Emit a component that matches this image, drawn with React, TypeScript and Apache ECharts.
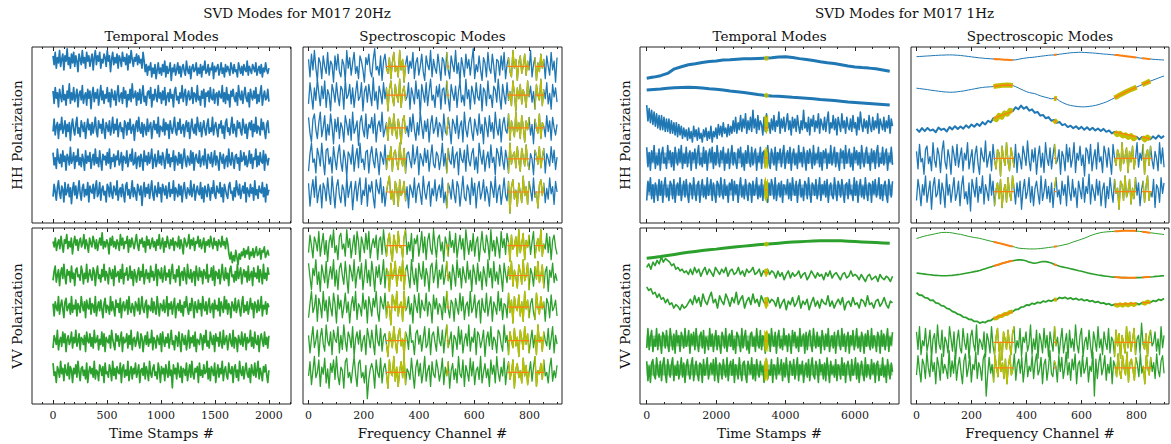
import React, { useEffect, useRef } from "react";
import * as echarts from "echarts";

const BLUE = "#1f77b4";
const GREEN = "#2ca02c";
const YELLOW = "#bfbf00";
const ORANGE = "#ff7f0e";
const INK = "#222222";
const FONT = "DejaVu Serif";

// ---- tick labels ----
const TICKS_T20 = [0, 500, 1000, 1500, 2000];
const TICKS_T1 = [0, 2000, 4000, 6000];
const TICKS_F = [0, 200, 400, 600, 800];

// ---- sample ranges / steps ----
const SPAN_T20 = 2000;      // time stamps covered by the 20 Hz modes
const SPAN_T1 = 7080;       // time stamps covered by the 1 Hz modes
const SPAN_F = 900;         // frequency channels
const STEP_T1 = 60;
const STEP_T1_SMOOTH = 200;
const STEP_F = 10;
const STEP_MASK_T1 = 10;

// ---- masked (flagged) regions ----
const MASK_F = [[280, 355], [500, 510], [720, 800], [820, 855]];
const MASK_T1 = [[3400, 3490]];

// ---- mode offsets ----
const OFF_A_HH = [89, 72, 54, 36, 18];
const OFF_A_VV = [88.3, 73.3, 55, 35.8, 18.2];
const OFF_B_HH = [89, 72.7, 54, 36.4, 17.6];
const OFF_B_VV = [90, 73, 55, 36, 18];
const OFF_C_HH = [0, 0, 54, 37, 18.75];
const OFF_C_VV = [0, 74.6, 57.5, 35.8, 19.3];
const OFF_D_HH = [0, 0, 0, 36.7, 17.8];
const OFF_D_VV = [0, 0, 0, 35, 20.5];

// ---- 20 Hz temporal modes, HH ----
const A_HH_1 = [6,1,8,-1,5,2,9,0,4,7,-2,6,3,10,1,5,-1,7,2,8,0,6,3,-3,7,4,1,9,2,5,-1,8,3,6,0,4,7,-2,5,9,1,6,3,8,-1,4,2,7,5,0,9,3,6,-3,4,8,1,5,2,7,-1,6,4,0,8,3,5,1,7,-2,6,2,9,4,0,5,3,7,1,6,2,4,-1,8,3,-3,1,-5,0,-2,2,-6,-1,-4,1,-7,-2,2,-4,-1,-5,1,-3,3,-6,0,-4,-2,2,-8,-1,-3,1,-5,-2,2,-4,0,-6,-1,1,-3,-5,3,-2,-4,0,-7,-1,1,-3,-2,2,-5,-1,-4,1,-6,0,-2,3,-4,-3,1,-5,-1,-2,2,-7,0,-3,-1,1,-5,-2,2,-4,-1,-6,1,-3,0,-2,-5,2,-1,-4,1,-3,-2,-6,2,-1,-4,0,-5,1,-2,-3,3,-5,0,-2,-4,1,-1,-3,2,-5,-2,0,-4,1,-6,-1,-3,2,-2,-4,-1];
const A_HH_2 = [3,-4,5,-1,2,-6,4,0,-3,6,-2,1,-5,3,-1,7,-4,2,-2,5,-3,0,4,-6,1,3,-2,6,-4,0,2,-5,4,-1,3,-7,1,5,-3,2,-1,4,-5,0,6,-2,3,-4,1,-1,5,-3,2,-6,4,0,-2,3,-5,1,6,-3,0,2,-4,5,-1,3,-6,1,-2,4,-3,7,-1,0,3,-5,2,-2,4,-4,1,6,-3,0,-5,2,3,-1,5,-6,1,-2,4,0,-3,6,-1,2,-4,3,-2,5,-5,0,2,-3,4,-1,1,-6,3,5,-2,0,-4,2,-1,6,-3,1,4,-5,0,3,-2,-1,5,-4,2,1,-3,6,-2,0,-5,3,-1,4,-6,2,0,3,-3,5,-1,-2,4,-4,1,2,-5,3,0,-1,6,-3,2,-4,5,-2,1,-6,3,0,4,-1,-3,2,-5,6,0,-2,3,-4,1,5,-1,-3,2,-6,4,0,-2,3,-1,5,-4,1,-3,2,6,-5,0,3,-2,-1,4,-3];
const A_HH_3 = [-2,5,-4,1,3,-6,2,-1,6,-3,0,4,-5,2,-2,3,-7,1,5,-1,-4,2,6,-3,0,-5,4,1,-2,3,-6,0,5,-1,2,-4,3,-3,1,6,-2,-5,4,0,2,-3,5,-1,-6,3,1,-2,4,-4,0,6,-3,2,-1,5,-5,1,3,-2,0,-6,4,2,-4,3,-1,5,-3,0,2,-7,1,4,-2,6,-1,-3,3,-5,2,0,-4,5,-2,1,3,-6,0,4,-1,2,-3,6,-5,1,0,-2,5,-4,3,-1,2,-6,4,0,-3,1,6,-2,-4,3,-1,5,-3,0,2,-5,1,4,-2,3,-6,0,5,-1,-3,2,-4,6,1,-2,3,-5,0,4,-1,-4,2,5,-3,0,-2,6,-4,1,3,-1,-5,2,0,4,-3,1,-6,3,5,-2,0,-4,1,6,-3,2,-1,-5,4,0,3,-2,-4,5,1,-3,2,-6,0,3,-1,4,-5,2,-2,6,-3,1,0,-4,5,-1,3,-2,-6,2,4,-3];
const A_HH_4 = [4,-3,1,-5,6,0,-2,3,-4,5,-1,2,-6,3,1,-3,7,-2,0,4,-5,2,-1,6,-3,1,-4,3,0,-6,5,-2,2,-1,4,-5,0,3,-3,6,-2,1,-4,5,-1,-6,3,0,2,-3,4,-2,6,-5,1,-1,3,-4,2,0,5,-3,-1,4,-6,2,1,-2,5,-4,0,3,-1,6,-3,-2,4,-5,1,2,-4,3,0,-6,5,-1,2,-3,4,-2,1,6,-5,0,3,-4,-1,5,-2,2,-3,4,1,-5,0,6,-2,3,-4,1,-1,5,-6,2,0,-3,4,-2,3,-5,1,6,-1,-4,2,0,-3,5,-2,4,-6,1,3,-1,-2,5,-4,0,2,-3,6,-1,-5,3,1,-2,4,-4,0,5,-3,2,-1,-6,4,1,-2,3,-5,0,2,-4,6,-1,-3,4,0,-5,2,3,-2,1,-6,5,-1,0,4,-3,2,-4,-1,5,-2,3,-5,1,0,6,-4,2,-3,4,-1,-2,5,-6,3,0,-3,1];
const A_HH_5 = [-3,4,0,-5,2,6,-1,-4,3,1,-6,5,-2,0,4,-3,2,-7,1,5,-2,3,-4,0,6,-1,-5,2,4,-3,1,-2,5,-6,3,0,-1,4,-4,2,6,-3,-1,5,-5,1,3,-2,0,-6,4,2,-3,5,-1,-4,3,1,-2,6,-5,0,2,-3,4,-1,-6,3,5,-2,1,-4,0,6,-3,2,-1,-5,4,1,-2,3,-8,0,5,-3,2,-1,4,-4,1,6,-2,-5,3,0,-3,5,-1,2,-6,4,1,-2,3,-4,0,5,-3,1,-1,6,-5,2,0,-3,4,-2,3,-6,1,5,-1,-4,2,0,-2,6,-3,1,4,-5,0,3,-1,-2,5,-4,2,-6,3,0,-3,4,1,-5,2,-1,6,-2,-4,3,0,-1,5,-3,2,-6,4,1,-2,-4,3,5,-1,0,-5,2,-3,6,1,-2,4,-4,0,3,-1,5,-6,2,0,-3,4,-1,2,-5,6,-2,1,-4,3,0,-1,5,-3,2,-6,4,-2,1];

// ---- 20 Hz temporal modes, VV ----
const A_VV_1 = [4,1,6,-1,3,5,0,7,2,-2,5,3,8,0,4,1,6,-3,3,7,2,5,-1,4,6,1,3,8,0,5,2,-2,6,3,1,7,4,0,5,-1,3,6,2,9,0,4,1,5,3,-3,6,2,7,1,4,0,5,3,-1,8,2,6,0,4,3,7,-2,5,1,6,3,0,4,8,2,-1,5,3,6,1,4,-2,7,2,5,0,3,6,1,4,-1,5,2,8,0,3,6,-2,4,1,7,3,0,5,2,6,-1,4,3,1,7,0,5,2,-3,6,4,1,3,8,0,5,2,6,-1,4,3,7,1,5,0,3,6,-2,4,2,5,1,7,3,0,6,2,4,-1,5,3,1,7,2,4,0,6,3,-3,-6,-2,-8,-4,-7,-1,-5,-9,-3,-6,-2,-4,0,-5,-1,-3,1,-6,-2,-4,0,-5,-2,1,-4,-3,0,-6,-1,-2,1,-5,-3,-1,-4];
const A_VV_2 = [-3,2,5,-4,0,3,-6,1,4,-2,6,-1,-5,3,0,2,-4,5,-2,1,-6,3,4,-1,0,-3,5,2,-5,1,-2,6,-4,0,3,-1,-3,4,2,-6,1,5,-2,0,-4,3,-1,6,-3,2,0,-5,4,1,-2,3,-6,5,-1,0,2,-4,3,-2,6,-5,1,0,4,-3,-1,5,-2,2,-6,3,0,-4,1,4,-3,2,-1,6,-5,0,3,-2,1,-4,5,-1,2,-3,0,6,-6,3,1,-2,4,-4,0,5,-3,1,-1,3,-5,2,6,-2,0,-4,3,-1,5,-6,1,2,-3,4,0,-5,6,-1,-2,3,-4,1,2,-6,5,0,-3,4,-1,2,-5,3,1,-2,6,-4,0,-1,4,-3,5,-6,2,1,-2,3,-5,0,6,-1,-3,4,-2,1,-6,3,5,-1,0,-4,2,-3,6,-2,1,4,-5,0,3,-1,2,-4,5,-3,0,2,-6,4,-1,1,-2,5,-4,3,0,-5,6,-2,1,-3,4,0];
const A_VV_3 = [2,-5,3,0,-2,6,-4,1,4,-1,-6,3,5,-2,0,2,-4,6,-3,1,-1,4,-5,2,0,-3,6,1,-2,3,-6,4,0,-1,5,-4,2,1,-3,6,-5,0,3,-2,4,-1,-6,2,5,-3,1,0,-4,6,-2,3,-1,-5,4,0,2,-3,5,-6,1,3,-2,0,4,-4,6,-1,-3,2,0,-5,3,1,-2,5,-4,0,6,-1,-3,2,4,-6,1,0,-2,5,-3,3,-1,-4,6,0,-5,2,1,-2,4,-3,0,6,-5,2,-1,3,-4,1,5,-6,0,2,-2,4,-3,1,-5,3,0,6,-1,-4,2,-2,5,1,-6,3,0,-3,4,-1,2,-5,6,0,-2,3,-4,1,5,-3,0,2,-6,4,-1,1,-2,5,-5,3,0,-3,6,-1,4,-4,2,0,-6,3,1,-2,5,-3,0,4,-1,-5,2,6,-3,1,-2,3,-4,0,5,-1,2,-6,3,1,-3,4,-2,0,6,-5,1,-1,3,-4,2,0];
const A_VV_4 = [-4,3,1,-2,6,-5,0,2,-3,5,-1,4,-6,1,3,-2,0,5,-4,2,-1,6,-3,0,4,-5,2,1,-2,3,-6,5,0,-1,4,-3,2,-4,6,-1,0,3,-5,1,-2,5,-3,4,-6,2,0,-1,3,-4,6,1,-2,-5,4,0,3,-3,1,5,-6,2,-1,0,4,-4,3,-2,6,-5,1,2,-3,0,5,-1,-4,4,2,-6,0,3,-2,5,-3,1,-1,6,-5,2,0,-4,3,1,-2,4,-6,5,0,-3,2,-1,4,-4,1,6,-2,0,-5,3,2,-3,5,-1,-6,4,1,-2,3,-5,0,6,-4,2,-1,3,-3,5,-6,1,0,-2,4,2,-5,3,-1,6,-3,0,-4,5,1,-2,3,-6,4,0,2,-3,5,-1,-4,6,-2,1,3,-5,0,4,-1,-3,6,-4,2,1,-6,3,0,-2,5,-3,1,4,-5,2,-1,0,6,-3,2,-4,5,-1,-2,3,-6,1,4,0,-3,5,-2,2,-4,3];
const A_VV_5 = [5,-2,0,-6,3,1,-3,6,-1,2,-5,4,0,-2,5,-4,3,1,-6,2,-1,4,-3,6,0,-5,2,3,-2,1,-4,5,-6,0,3,-1,2,-3,6,-4,1,0,-5,4,2,-2,3,-6,5,-1,0,-3,4,1,-5,6,-2,2,-4,3,0,-1,5,-6,2,4,-3,1,-2,6,-5,0,3,-4,2,-1,5,-3,0,4,-6,1,2,-2,5,-4,3,0,-5,6,-1,-3,2,4,-2,0,-4,5,1,-6,3,-1,2,-5,4,0,-3,6,-2,1,-9,4,-1,2,-4,5,0,-3,3,-6,2,1,-2,5,-5,0,4,-3,6,-1,-4,2,0,3,-6,5,-2,1,-3,4,-1,0,6,-4,2,-5,3,1,-2,5,-6,0,4,-3,2,-1,6,-5,1,3,-2,-4,5,0,-1,3,-6,2,4,-3,1,-5,6,0,-2,3,-4,1,5,-1,-3,2,-6,4,0,-2,5,-3,1,6,-4,2,-1,-5,3,0,4,-2,-6,1];

// ---- 20 Hz spectroscopic modes, HH ----
const B_HH_1 = [4,-6,7,-2,9,-1,-8,5,2,-7,6,0,-4,8,-5,3,1,-9,6,-2,7,-3,-6,4,1,-8,9,-1,5,-5,2,8,-4,0,-7,6,3,-2,-9,5,1,7,-3,-6,4,10,-2,0,-5,6,-8,3,7,-1,-4,5,-7,2,8,-3,0,-6,9,-2,4,-9,1,6,-4,3,-1,8,-7,2,5,-5,0,7,-3,-8,6,1,-2,9,-6,4,-1,-4,7,0,-8,5,3,-5,8,-2,-7,6,1,-3,9,-4,2,-9,5,0,-6,7,-1,4,-5,3,10,-7,1,-3,6,-2,-8,5,2,-6,8,-1,-4,7,0,-9,4,3,-5,6,-2,8,-7,1,5,-3,-6,9,-1,4,-8,2,6,-4,0,7,-5,3,-2,9,-6,1,5,-8,2,-3,7,-1,4,-7,6,0,-5,8,-2,3,-9,5];
const B_HH_2 = [-5,7,0,-8,4,-3,9,1,-6,5,-2,8,-7,3,0,-9,6,2,-4,7,-1,-6,5,3,-8,9,-2,0,6,-5,4,-7,1,8,-3,-1,7,-9,2,5,-4,6,0,-6,10,-3,2,-8,5,1,-5,7,-2,4,-9,3,8,-1,-6,6,0,-4,9,-7,2,5,-3,-1,7,-8,4,0,-5,8,-2,3,-11,6,1,-4,7,-6,2,9,-3,0,-7,5,-1,6,-8,3,4,-5,8,-2,-9,6,1,-3,5,-7,2,8,-4,0,-6,9,-2,3,-8,5,1,-5,7,-1,-3,6,-9,4,2,-6,8,-2,0,-7,5,3,-4,9,-1,-8,6,0,-5,7,-3,2,-6,8,1,-9,4,-2,6,-5,3,0,-7,8,-1,5,-4,2,-8,6,0,-3,9,-6,3,-2,7,-5,1,-8,6,-1,4,-4];
const B_HH_3 = [6,-3,-8,5,8,-1,-6,3,9,-5,0,7,-7,2,-4,8,1,-9,5,-2,6,-6,3,0,-8,7,2,-4,5,-7,9,-3,0,4,-10,3,7,-1,-5,8,-6,2,0,6,-3,8,-8,1,4,-2,9,-5,-1,3,-7,6,2,-4,8,-1,-6,5,0,-9,4,7,-3,1,-5,6,-2,8,-1,-7,3,-4,9,1,-6,4,-2,5,-8,2,7,-3,0,6,-5,3,1,-7,8,-2,-4,6,0,-9,5,2,-3,7,-6,1,4,-8,9,-1,-5,3,6,-2,-7,5,0,-4,8,-3,2,-9,6,1,-5,7,-2,3,-6,9,0,-4,5,-8,2,6,-1,-3,8,-7,4,0,-5,9,-2,3,-6,7,1,-8,4,-1,6,-4,2,-9,5,0,-3,8,-6,3,1,-5,7,-2,4,-7,6,0,-4,2];
const B_HH_4 = [-7,3,9,-2,0,-8,6,2,-4,9,-1,-9,5,6,-3,1,-8,7,0,-6,3,8,-2,-7,5,0,-10,4,2,-3,8,-7,1,6,-5,9,-2,0,-6,4,5,-8,2,7,-1,-5,6,0,-9,4,1,-3,8,-6,2,-1,7,-7,3,5,-2,-6,9,0,-4,6,-8,3,4,-1,-5,8,-3,1,7,-9,3,0,-4,6,-2,5,-7,1,8,-3,-5,4,2,-6,0,9,-4,3,-8,6,-1,-3,7,-5,2,4,-9,6,0,-2,5,-7,8,-1,-4,3,6,-6,1,-8,9,2,-3,5,-7,0,4,-5,8,-2,1,-9,6,3,-4,7,-1,-6,5,0,-8,9,-3,2,4,-5,7,-1,-7,6,1,-4,8,-2,-6,3,0,-9,5,2,-3,7,-5,1,6,-8,3,0,-4,7,-2,5,-6,1];
const B_HH_5 = [5,-8,1,7,-3,9,-6,0,4,-9,5,2,-5,8,-1,-7,9,0,-9,3,7,-2,-6,4,1,-8,9,-3,2,6,-10,0,6,-5,3,8,-7,1,-2,8,-8,4,0,6,-3,-9,7,2,-1,8,-6,3,-8,0,5,9,-4,1,-7,6,2,-8,7,-2,0,6,-5,3,-9,4,1,-3,8,-6,2,5,-1,-7,9,0,-4,3,6,-8,2,-2,7,-5,1,4,-3,8,-6,0,-9,5,2,-4,7,-1,-6,6,3,-8,0,9,-3,-5,4,1,-7,8,-2,5,-9,2,6,-4,0,7,-5,3,-1,-8,6,2,-3,9,-6,1,4,-7,0,8,-2,-5,6,-12,3,7,-4,1,-8,5,0,-6,9,-2,3,-7,6,1,-5,8,-3,0,-9,4,7,-2,5,-6,2,-4,8,-1,3,-7,6,0];

// ---- 20 Hz spectroscopic modes, VV ----
const B_VV_1 = [-4,6,0,-7,5,2,-3,8,-6,1,7,-5,3,-9,2,6,-1,9,-4,0,-8,5,7,-2,1,-6,9,-1,4,-7,0,6,-5,8,2,-9,5,1,-4,7,-2,8,-7,0,4,-1,6,-8,3,5,-5,9,0,-6,3,7,-3,-9,6,1,-4,8,-1,0,-7,5,9,-5,2,-3,7,-9,4,1,6,-6,0,8,-4,5,-8,3,7,-2,-5,9,0,-7,4,6,-3,2,-9,5,1,-6,8,-1,3,-4,7,-7,0,6,-2,4,-8,9,1,-5,3,-3,7,-6,2,5,-9,0,8,-2,-4,6,1,-8,9,-3,3,-6,5,0,-7,8,-1,4,-5,7,2,-9,6,-2,0,5,-6,9,-4,1,7,-8,3,-1,6,-5,2,8,-7,0,4,-3,9,-6,1,-2,7,-4,5,-8,3,6,-1,-5];
const B_VV_2 = [7,-1,-8,4,0,9,-5,2,-9,6,1,-4,8,-7,0,5,-2,9,-6,3,-8,4,7,0,-5,8,-1,-10,6,2,-3,9,-7,1,5,-2,7,-8,0,9,-4,3,-6,8,1,-9,5,-1,6,-5,0,9,-7,4,2,-9,7,-2,1,8,-6,0,5,-3,9,-8,3,6,-1,-7,9,0,-5,4,-9,7,1,-2,8,-6,4,0,-9,5,7,-4,1,9,-7,3,-2,6,-5,0,8,-3,2,-8,6,1,-6,9,-1,4,-7,5,0,-4,8,-2,3,-9,6,1,-5,7,-3,2,-8,5,0,-6,9,-1,4,-7,8,-3,2,-5,6,0,-9,7,1,-4,5,-2,8,-6,3,-1,-7,6,2,-5,9,-3,0,7,-8,4,1,-6,5,-2,8,-4,0,6,-7,2,5,-9,3,-1,7,-4,1,-3];
const B_VV_3 = [-6,2,9,-3,0,7,-8,5,1,-6,9,-2,4,-8,6,0,-5,8,2,-9,7,-1,4,-6,0,8,-3,3,-9,1,6,-2,9,-7,2,0,-5,8,-1,4,-9,6,1,-5,5,0,9,-3,-8,6,2,-1,8,-6,3,0,-10,7,4,-2,9,-5,1,3,-8,9,-2,0,6,-4,2,-9,7,1,-3,8,-6,4,0,-2,8,-5,3,1,-9,7,-1,5,-4,2,0,-7,6,-3,9,-1,-6,4,2,-8,5,0,-4,8,-2,6,-7,1,3,-5,9,-3,0,7,-6,2,4,-9,5,-1,-3,8,-5,1,6,-8,3,0,-4,9,-2,5,-7,2,1,-6,8,-3,4,-9,6,0,-2,7,-5,3,-8,9,-1,4,-6,2,5,-3,-7,8,0,-4,6,-1,3,-8,5,2,-6,7,-2,0,4,-5];
const B_VV_4 = [3,-7,1,8,-4,0,6,-9,2,7,-2,-6,9,0,-3,5,-8,6,1,-1,8,-7,3,-5,9,0,-6,5,2,-4,8,-9,1,5,-2,6,-6,0,3,-8,7,2,-4,6,-1,-8,9,0,-3,7,-6,2,4,-2,-9,5,1,-4,8,0,-7,3,7,-3,1,-9,5,2,-5,9,-1,0,-8,4,6,-2,3,-6,1,8,-4,-2,7,-8,3,5,-1,-6,8,0,-3,6,-7,2,9,-4,0,5,-9,3,1,-5,8,-2,6,-7,0,4,-3,9,-6,2,-1,7,-8,5,3,-4,0,6,-9,1,5,-3,8,-5,2,0,-7,6,4,-2,-6,9,-1,3,-8,5,0,-4,7,-3,2,-9,6,1,-5,8,-2,4,-7,0,6,-4,3,-8,9,-1,2,-6,5,0,-3,7,-5,1,8,-7,3,-2];
const B_VV_5 = [-2,6,-7,1,9,-3,0,7,-8,3,-1,8,-6,2,-9,5,0,7,-4,9,-2,-7,3,1,-9,6,8,-3,0,-6,2,9,-1,-8,5,7,-3,0,-6,4,-15,-4,2,5,1,-9,7,0,-3,8,-6,2,5,-1,-9,7,0,-2,9,-5,3,-8,1,6,-3,9,-7,2,0,-4,8,-1,-9,3,7,-2,5,-6,0,9,-5,1,4,-8,6,-1,-3,7,2,-5,0,8,-7,3,-2,6,-9,1,5,-4,2,-6,9,-1,-3,7,-8,4,0,-5,8,-2,6,-7,1,3,-4,9,-6,0,5,-3,2,-8,7,-1,4,-6,9,0,-5,3,-2,8,-7,1,6,-4,0,7,-9,2,5,-3,1,-6,8,-2,4,-7,0,6,-5,3,9,-8,1,-1,5,-4,7,-2,0,-6,3,8,-5,1,-3,4];

// ---- 1 Hz temporal modes, HH ----
const C_HH_1 = [82.2,82.9,83.7,85.0,87.6,88.8,89.9,90.5,91.2,91.7,92.1,92.6,92.8,93.1,93.3,93.3,93.5,93.6,93.9,94.3,94.4,94.0,93.4,92.9,92.3,91.6,91.0,90.6,89.9,89.2,88.7,88.3,88.0,87.6,86.9,86.2];
const C_HH_2 = [75.6,75.9,76.2,76.6,76.8,77.0,77.1,77.0,76.7,76.3,76.0,75.6,75.0,74.6,74.2,73.6,73.0,72.5,72.2,72.0,71.7,71.4,71.2,70.9,70.6,70.2,69.9,69.6,69.2,68.8,68.5,68.2,67.9,67.6,67.3,67.0];
const C_HH_3 = [13,4,11,3,10,2,9,1,8,0,7,-1,7,-1,6,-2,5,-2,5,-3,4,-3,3,-4,3,-5,2,-4,1,-6,0,-5,-1,-7,0,-6,-2,-8,1,-5,-1,-7,0,-6,-3,-8,-1,-5,0,-7,-2,-6,1,-8,-2,-5,0,-6,2,-4,1,-5,3,-3,0,-5,2,-4,1,-3,4,-2,6,-3,3,-1,7,-2,5,0,8,-3,4,-1,6,-2,10,0,5,-3,7,-1,4,2,-4,6,-2,8,0,3,-3,5,-1,7,-2,4,1,9,-3,5,0,6,-2,3,8,-1,4,-4,6,0,5,-2,7,1,-3,4,-1,10,0,3,-2,6,-4,5,1,7,-2,4,0,8,-3,5,2,-1,6,-2,4,9,-3,3,0,7,-1,5,-4,6,2,-2,8,0,4,-3,6,1,-1,5,-2,7,0,3,-4,6,-1,9,2,-2,5,0,4,-3,7,1,-2,6,-1,4,0,8,-3,5,2,-1,6,-2,4,0,7,-3,5,1];
const C_HH_4 = [6,-5,3,-7,4,-2,7,-6,1,-4,5,-7,2,6,-3,0,-6,7,-1,4,-5,3,-7,6,0,-4,5,-2,7,-6,2,-3,6,-5,1,4,-7,3,-1,5,-6,2,7,-4,0,-5,6,-3,4,-7,1,5,-2,6,-6,3,-4,7,0,-5,4,-1,6,-7,2,-3,5,-6,1,7,-4,3,-2,-6,5,0,6,-5,2,-7,4,-3,7,-1,-5,6,-4,2,5,-7,1,-2,6,-6,3,4,-5,0,7,-3,-6,5,1,-4,6,-7,3,-1,5,-5,2,7,-6,0,4,-3,6,-7,1,5,-4,2,-6,7,-2,3,-5,6,0,-7,4,-3,5,1,-6,7,-4,2,-1,6,-5,3,-7,4,0,5,-6,2,-3,7,-4,1,6,-5,3,-2,-7,5,0,4,-6,7,-3,1,5,-5,2,-7,6,-1,4,-4,3,-6,7,0,-5,2,6,-3,1,-7,5,-2,4,-6,3,7,-5,0,-3,6,-4,2,5,-7,1,-2,6,-4];
const C_HH_5 = [-6,5,-1,7,-5,3,-7,4,0,-6,6,-3,5,-7,2,7,-4,1,-6,5,3,-5,6,-7,1,4,-3,7,-6,0,5,-4,6,-2,-7,4,2,-5,7,-1,-6,3,5,-7,0,6,-4,2,-5,7,-3,1,6,-6,4,-2,-7,5,3,-4,7,-1,-5,6,-3,2,-7,4,0,6,-6,5,-2,3,-7,1,7,-4,2,-5,6,-1,-6,4,3,-7,5,-3,0,7,-5,2,-4,6,-6,1,5,-2,-7,4,-3,6,2,-5,7,-6,0,4,-4,5,-7,3,1,-2,6,-5,4,-6,7,0,-3,5,-7,2,6,-4,1,-6,5,3,-5,7,-1,-7,4,2,-3,6,-5,0,7,-6,3,-2,5,-4,6,-7,1,4,-3,-5,7,0,-6,5,2,-4,6,-1,-7,3,4,-5,6,-2,0,-6,7,-3,5,-7,1,6,-4,2,-5,7,-1,-6,4,3,-7,5,-2,6,-4,0,7,-5,3,-6,2,5,-3,-7,6,1,-4,5];
const C_HH_3_MASK = [6,-1,7,-2,5,-3,6,0,7,-2];
const C_HH_4_MASK = [5,-6,4,-5,6,-4,5,-6,3,-5];
const C_HH_5_MASK = [6,-5,7,-6,4,-7,5,-4,6,-5];

// ---- 1 Hz temporal modes, VV ----
const C_VV_1 = [82.8,83.3,83.8,84.4,85.0,85.6,86.2,86.7,87.2,87.6,88.0,88.5,88.9,89.3,89.7,90.1,90.5,90.8,91.1,91.4,91.7,92.0,92.2,92.4,92.6,92.7,92.8,92.8,92.7,92.5,92.3,92.1,91.9,91.7,91.5,91.3];
const C_VV_2 = [3,5,2,6,4,7,5,9,6,8,7,6,4,5,2,3,1,2,0,1,-1,2,-1,3,0,2,-2,1,3,-1,2,0,-2,3,1,-1,2,0,3,-2,1,2,-1,0,3,-1,1,-2,2,0,1,3,-1,0,2,-2,1,0,2,-1,1,0,-3,1,-2,0,-4,-1,1,-3,0,-2,-1,1,-3,-1,0,-4,-2,1,-1,-3,0,-2,-1,-4,0,-2,1,-3,-1,0,-2,-4,-1,0,-3,-2,1,-2,-1,-2,-4,-1,-3,-5,-2,-1,-4,-3,-2,-5,-1,-3,-4,-2,-3,-5,-2];
const C_VV_3 = [9,7,8,5,6,3,5,2,3,0,2,-1,0,-3,-1,-2,-4,-1,-3,-2,0,2,-1,4,0,3,-2,5,1,-1,3,6,0,2,-3,4,1,-1,5,2,-2,3,0,6,-1,2,4,-3,1,3,-1,5,0,2,-2,4,1,-1,3,0,2,1,-2,3,-3,0,2,-4,1,-1,3,-2,0,4,-3,1,-1,2,-4,0,3,-2,1,-3,2,0,-1,4,-2,1,-3,0,2,-1,3,-4,0,1,-2,3,-1,0,-3,2,1,-2,4,-1,0,-3,1,2,-2,0,3,-1,-3,1,0];
const C_VV_4 = [-4,7,-5,2,6,-6,1,-3,7,-5,4,0,-7,5,3,-4,6,-2,-6,7,1,-5,4,-7,6,-1,3,-6,5,2,-4,7,-3,0,6,-7,4,-2,5,-5,7,-1,-6,3,5,-4,6,-7,2,0,-5,7,-3,4,-6,1,6,-5,3,-2,-7,5,2,-4,7,-6,0,4,-3,6,-5,1,-7,5,3,-1,-6,7,-4,2,6,-5,0,-7,4,5,-3,2,-6,7,-1,-4,6,-5,3,1,-7,5,-2,4,-6,7,0,-3,5,-7,2,6,-4,1,-5,7,-2,3,-6,4,0,-7,6,-1,5,-4,2,-6,7,-3,1,4,-7,5,-5,3,6,-2,-6,7,0,-4,5,-3,2,-7,6,1,-5,4,-3,7,-6,0,3,-4,5,-7,2,6,-1,-5,7,-3,4,-6,1,5,-7,3,-2,6,-5,0,7,-4,2,-6,5,1,-7,4,-3,6,-1,-5,7,-4,3,0,-6,5,2,-7,6,-3,4,-5,1,7,-6,2,-2,5];
const C_VV_5 = [5,-6,2,-7,4,6,-3,-5,7,0,-4,5,-6,3,7,-2,-7,6,1,-4,3,7,-6,2,-3,5,-5,0,7,-4,4,-7,2,6,-1,-5,3,7,-6,0,5,-2,-6,4,3,-7,6,-3,1,7,-5,0,4,-2,6,-6,7,-1,-7,4,2,-5,6,0,-4,7,-6,2,5,-3,6,-7,3,0,-5,7,-1,-6,4,5,-3,-7,5,1,-2,7,-5,3,-6,6,0,-4,5,-1,2,-7,4,6,-5,0,-3,6,-7,3,1,-5,7,-2,0,6,-6,4,-4,7,-1,-7,5,2,-3,6,-5,1,7,-6,3,-2,5,-7,0,4,-4,6,-6,2,7,-3,-5,5,1,-7,6,-1,3,-5,4,-6,7,0,-7,5,-2,2,-4,6,-6,3,1,-5,7,-3,4,-7,2,5,-1,-6,6,-3,0,7,-5,4,-7,1,5,-2,-6,7,-4,3,0,-5,6,-2,4,-7,3,5,-6,1,-3,7,-4,2,-7,6,0,-5,4,-1];
const C_VV_2_MASK = [2,-1,2,-2,1,-2,2,-1,2,-1];
const C_VV_3_MASK = [3,-2,3,-3,2,-3,3,-2,3,-2];
const C_VV_4_MASK = [6,-5,5,-6,4,-5,6,-4,5,-6];
const C_VV_5_MASK = [5,-6,6,-5,7,-4,5,-6,4,-5];

// ---- 1 Hz spectroscopic modes, HH ----
const D_HH_1 = [94.5,94.6,94.7,94.8,94.9,95.0,95.1,95.2,95.3,95.4,95.4,95.5,95.5,95.5,95.4,95.3,95.2,95.0,94.8,94.6,94.4,94.2,94.0,93.8,93.7,93.5,93.4,93.3,93.2,93.1,93.0,92.9,92.8,92.7,92.6,92.6,92.7,93.0,93.3,93.6,93.8,94.0,94.1,94.3,94.5,94.7,94.9,95.1,95.3,95.4,95.5,95.7,95.9,96.1,96.3,96.5,96.7,96.8,96.9,97.0,97.0,96.9,96.8,96.7,96.6,96.5,96.3,96.2,96.0,95.9,95.8,95.6,95.5,95.4,95.2,95.0,94.8,94.6,94.4,94.2,94.0,93.8,93.6,93.5,93.3,93.2,93.0,92.9,92.8,92.7,92.6];
const D_HH_2 = [76.6,76.4,76.2,76.0,75.8,75.5,75.3,75.1,74.9,74.7,74.5,74.4,74.3,74.3,74.4,74.6,74.8,75.0,75.3,75.6,75.9,76.2,76.5,76.8,77.0,77.2,77.3,77.4,77.5,77.8,78.0,78.2,78.3,78.4,78.3,78.1,77.5,76.8,76.0,75.3,74.6,74.1,73.8,73.5,72.9,72.3,71.8,71.4,71.0,70.5,70.9,70.6,69.4,68.5,67.8,67.2,66.8,66.5,66.3,66.1,66.0,66.0,66.1,66.3,66.5,66.8,67.2,67.7,68.2,68.8,69.5,70.3,71.1,71.9,72.8,73.6,74.4,75.1,75.8,76.5,77.2,77.9,78.6,79.3,80.0,80.6,81.2,81.8,82.4,83.0,83.5];
const D_HH_3 = [53.5,51.8,53.9,52.2,54.0,52.5,53.1,51.6,54.2,52.9,53.6,52.0,54.5,53.2,55.0,53.4,54.8,53.6,55.5,54.1,56.0,54.7,56.4,55.2,57.3,56.0,58.1,57.2,59.6,58.7,61.2,60.1,62.5,61.8,64.0,63.5,65.8,64.6,66.7,64.9,66.0,63.8,64.6,62.6,63.1,61.0,61.4,59.5,60.2,58.1,58.6,56.9,57.4,55.6,56.2,54.5,55.3,53.9,55.0,53.4,54.6,53.0,54.4,52.8,54.1,52.6,53.7,52.3,53.5,51.8,52.6,50.9,51.8,50.2,51.0,49.4,50.1,48.6,49.6,47.9,49.0,47.5,48.9,47.3,48.8,47.6,49.2,47.9,49.7,48.3,49.5];
const D_HH_4 = [4,-6,8,-2,0,-9,5,7,-3,1,-7,9,-1,-5,6,2,-8,4,10,-2,-6,5,0,-9,7,2,-4,8,-5,1,6,-7,3,-1,9,-6,0,5,-8,2,7,-3,-9,6,1,-2,10,-5,0,4,-7,8,-1,-6,5,3,-10,7,0,-4,9,-2,-7,6,1,-5,8,-8,3,0,-6,7,2,-4,10,-1,-7,5,-2,6,-9,1,7,-5,3,-8,9,0,-4,6,-6,2,8,-3,-1,5,-9,4,1,-7,8,-2,6,-5,0,9,-8,3,-1,7,-4,2,-10,6,4,-3,8,-7,0,5,-6,9,-2,1,-8,7,3,-5,6,-1,-9,8,0,-4,5,2,-7,9,-3,1,6,-8,4,-2,7,-6,0,9,-5,3,-1,8,-9,2,5,-4,7,-1,-6,4,0,-7,9,-3,6,-5];
const D_HH_5 = [-5,7,1,-8,4,-2,9,-6,0,6,-10,3,8,-3,-1,7,-7,5,0,-9,10,-2,4,-6,1,8,-5,-1,6,-8,3,9,-4,0,-7,5,-11,7,2,-3,8,-6,3,-1,9,-7,4,0,-5,10,-2,6,-8,1,5,-4,7,-9,0,4,-6,8,-1,-5,9,2,-7,5,-3,6,-10,1,7,-4,0,8,-6,3,-8,2,6,-1,-7,9,-5,0,7,-4,3,-6,5,-9,2,8,-3,1,-7,6,-2,4,-8,9,0,-5,7,-3,2,-9,6,1,-4,8,-6,3,-1,10,-7,4,0,-5,7,-2,6,-8,1,5,-9,3,-4,8,0,-6,7,-1,2,-10,6,4,-5,9,-3,0,7,-7,2,-4,8,-2,5,-8,1,6,-6,3,9,-5,0,-3,7,-9,4,2,-6,8,-1,5];

// ---- 1 Hz spectroscopic modes, VV ----
const D_VV_1 = [94.0,94.5,95.0,95.4,95.8,96.1,96.4,96.8,97.1,97.4,97.5,97.5,97.4,97.2,96.9,96.6,96.4,96.0,95.6,95.2,94.9,94.6,94.4,94.1,93.7,93.3,92.9,92.5,92.2,91.8,91.4,91.0,90.6,90.2,89.8,89.5,89.0,88.6,88.4,88.3,88.2,88.1,88.1,88.1,88.2,88.3,88.5,88.7,88.9,89.1,89.3,89.6,89.9,90.2,90.6,90.9,91.5,92.1,92.6,93.1,93.6,94.2,94.8,95.5,96.1,96.6,97.0,97.4,97.6,97.8,97.9,98.0,98.1,98.2,98.3,98.4,98.5,98.5,98.4,98.4,98.3,98.1,97.9,97.7,97.5,97.3,97.1,96.9,96.7,96.5,96.3];
const D_VV_2 = [74.4,74.2,74.0,73.8,73.6,73.4,73.2,73.1,73.0,72.9,72.9,72.9,73.0,73.1,73.3,73.5,73.7,74.0,74.3,74.6,74.9,75.2,75.5,75.9,76.4,76.9,77.4,77.9,78.4,78.8,79.3,79.8,80.3,80.7,81.1,81.4,81.7,81.9,81.9,81.7,81.2,80.6,80.2,80.0,80.3,80.7,81.0,80.9,80.6,80.1,79.4,78.8,78.3,77.9,77.6,77.3,76.9,76.5,76.1,75.7,75.4,75.0,74.6,74.2,73.9,73.6,73.3,73.1,72.8,72.6,72.4,72.2,72.1,72.0,71.9,71.8,71.8,71.7,71.7,71.7,71.8,71.8,71.9,72.0,72.1,72.2,72.3,72.5,72.6,72.8,72.9];
const D_VV_3 = [63.2,61.9,61.8,60.4,60.2,58.9,59.0,57.5,57.2,55.9,55.6,54.3,53.9,52.6,52.1,51.0,50.6,49.4,49.2,48.1,48.0,46.9,47.0,46.0,46.6,46.3,47.3,47.4,48.6,48.7,49.8,50.0,51.1,51.2,52.3,52.5,53.7,53.8,55.0,55.2,56.3,56.1,57.2,56.8,57.8,57.4,58.4,58.0,58.9,58.4,59.4,59.3,60.5,60.0,60.6,59.7,60.3,59.4,60.0,59.1,59.6,58.7,59.2,58.3,58.7,57.7,58.2,57.2,57.5,56.6,57.0,56.0,56.6,55.8,56.6,55.9,56.8,56.0,57.0,56.2,57.2,56.5,57.6,57.0,58.2,57.6,58.7,58.3,59.4,58.9,60.0];
const D_VV_4 = [6,-4,9,-7,1,-2,8,-5,0,7,-9,2,5,-6,10,-1,-4,7,-8,3,0,-6,9,2,-5,6,-10,1,7,-3,-6,8,0,-4,5,-9,3,7,-1,-5,10,-7,2,0,-4,6,-8,5,1,-6,9,-2,-7,3,8,-5,0,-10,6,2,-4,7,-1,-7,5,9,-6,1,-3,8,-8,3,0,6,-5,-1,10,-7,2,-4,7,-9,5,1,-6,8,-3,4,-8,6,0,-5,9,-2,3,-7,1,8,-6,0,5,-9,7,-3,2,-5,10,-1,-6,4,8,-8,0,3,-4,7,-2,-9,6,1,-5,9,-3,2,-7,6,0,-4,8,-6,3,1,-8,7,-2,5,-9,4,0,-6,9,-3,6,-5,1,8,-7,2,4,-6,11,-1,-4,5,-8,3,7,-2,0,6,-5,2,-7,9,-3,4];
const D_VV_5 = [-4,7,-1,-8,5,2,-6,9,0,-5,7,-2,3,-9,6,1,-7,8,-3,2,-1,-6,10,-5,4,-3,7,-7,1,6,-2,-9,4,8,-5,0,7,-8,2,-1,9,-6,3,0,-7,5,8,-16,-4,6,-3,2,-8,7,0,-5,9,-2,3,-6,5,-9,1,7,-4,-1,8,-7,2,5,-3,6,-8,0,9,-5,1,-2,7,-6,3,8,-4,-1,6,-9,2,5,-7,0,10,-3,-5,4,1,-8,7,-2,6,-6,0,9,-4,3,-7,5,-1,8,-9,2,4,-5,7,-3,0,6,-8,1,-2,9,-16,5,-6,3,8,-4,0,7,-7,2,-3,6,-9,4,1,-5,8,-2,-6,7,0,-4,9,-8,3,5,-1,-7,6,2,-5,8,-3,1,-9,7,0,-4,6,-2,3,-6,8,-1,-5,4,7,-3];

// ---------------------------------------------------------------
type Trace = {
  vals: number[]; off: number; step?: number; span?: number; lw: number;
  yel: number; ora: "none" | "flat" | "data" | "chord"; oraW?: number;
  fine?: number[]; dot?: boolean; core?: number; coreOp?: number;
};
type Panel = {
  left: number; top: number; width: number; xmin: number; xmax: number;
  ticks: number[]; major: number; minor: number; color: string; labels: boolean;
  masks: number[][]; traces: Trace[];
};

const mode = (vals: number[], off: number, o: Partial<Trace> = {}): Trace =>
  ({ vals, off, lw: 1, yel: 1, ora: "flat", ...o });

const ROW1 = 47, ROW2 = 228, PANEL_H = 176;
const LEFTS = [32, 303, 640, 911];
const WIDTHS = [259, 259, 259, 258];
const XR = [[-195, 2205], [-20, 918], [-193, 7267], [-20, 918]];

// line widths of the noisy modes (dense sampling drawn as a thick zigzag)
const LW_A = 1.7;
const LW_SPEC = 1.3;
const LW_C = 1.6;

function mkPanels(): Panel[] {
  const base = (col: number, row: number, traces: Trace[], masks: number[][]): Panel => {
    const ticks = col === 0 ? TICKS_T20 : col === 2 ? TICKS_T1 : TICKS_F;
    const major = col === 0 ? 500 : col === 2 ? 2000 : 200;
    const minor = col === 0 ? 100 : col === 2 ? 500 : 50;
    return {
      left: LEFTS[col], top: row === 0 ? ROW1 : ROW2, width: WIDTHS[col],
      xmin: XR[col][0], xmax: XR[col][1], ticks, major, minor,
      color: row === 0 ? BLUE : GREEN, labels: row === 1, masks, traces,
    };
  };
  const A = (arrs: number[][], offs: number[]) => arrs.map((a, i) => mode(a, offs[i], { span: SPAN_T20, lw: LW_A, yel: 0, ora: "none" }));
  const spec = { span: SPAN_F, lw: LW_SPEC, yel: LW_SPEC };
  const B = (arrs: number[][], offs: number[]) => arrs.map((a, i) => mode(a, offs[i], spec));
  const dense = { span: SPAN_T1, lw: LW_C, core: 11, coreOp: 0.55 };
  return [
    base(0, 0, A([A_HH_1, A_HH_2, A_HH_3, A_HH_4, A_HH_5], OFF_A_HH), []),
    base(1, 0, B([B_HH_1, B_HH_2, B_HH_3, B_HH_4, B_HH_5], OFF_B_HH), MASK_F),
    base(2, 0, [
      mode(C_HH_1, OFF_C_HH[0], { step: STEP_T1_SMOOTH, lw: 3, yel: 0, ora: "none", dot: true }),
      mode(C_HH_2, OFF_C_HH[1], { step: STEP_T1_SMOOTH, lw: 3, yel: 0, ora: "none", dot: true }),
      mode(C_HH_3, OFF_C_HH[2], { span: SPAN_T1, lw: LW_C, yel: 1.2, fine: C_HH_3_MASK }),
      mode(C_HH_4, OFF_C_HH[3], { ...dense, fine: C_HH_4_MASK }),
      mode(C_HH_5, OFF_C_HH[4], { ...dense, fine: C_HH_5_MASK }),
    ], MASK_T1),
    base(3, 0, [
      mode(D_HH_1, OFF_D_HH[0], { step: STEP_F, yel: 0, ora: "data", oraW: 2 }),
      mode(D_HH_2, OFF_D_HH[1], { step: STEP_F, yel: 5, ora: "data", oraW: 1.5 }),
      mode(D_HH_3, OFF_D_HH[2], { step: STEP_F, lw: 2, yel: 5, ora: "chord", oraW: 1.3 }),
      mode(D_HH_4, OFF_D_HH[3], spec),
      mode(D_HH_5, OFF_D_HH[4], spec),
    ], MASK_F),
    base(0, 1, A([A_VV_1, A_VV_2, A_VV_3, A_VV_4, A_VV_5], OFF_A_VV), []),
    base(1, 1, B([B_VV_1, B_VV_2, B_VV_3, B_VV_4, B_VV_5], OFF_B_VV), MASK_F),
    base(2, 1, [
      mode(C_VV_1, OFF_C_VV[0], { step: STEP_T1_SMOOTH, lw: 3, yel: 0, ora: "none", dot: true }),
      mode(C_VV_2, OFF_C_VV[1], { step: STEP_T1, lw: 1.6, yel: 1.2, fine: C_VV_2_MASK }),
      mode(C_VV_3, OFF_C_VV[2], { step: STEP_T1, lw: 1.6, yel: 1.2, fine: C_VV_3_MASK }),
      mode(C_VV_4, OFF_C_VV[3], { ...dense, fine: C_VV_4_MASK }),
      mode(C_VV_5, OFF_C_VV[4], { ...dense, fine: C_VV_5_MASK }),
    ], MASK_T1),
    base(3, 1, [
      mode(D_VV_1, OFF_D_VV[0], { step: STEP_F, yel: 0, ora: "data", oraW: 2 }),
      mode(D_VV_2, OFF_D_VV[1], { step: STEP_F, lw: 1.6, yel: 0, ora: "data", oraW: 2 }),
      mode(D_VV_3, OFF_D_VV[2], { step: STEP_F, lw: 1.8, yel: 4, ora: "chord", oraW: 1.3 }),
      mode(D_VV_4, OFF_D_VV[3], spec),
      mode(D_VV_5, OFF_D_VV[4], spec),
    ], MASK_F),
  ];
}

function minorTicks(min: number, max: number, step: number, major: number) {
  const r: number[] = [];
  for (let v = Math.ceil(min / step) * step; v <= max; v += step) if (v % major !== 0) r.push(v);
  return r;
}

function buildOption() {
  const panels = mkPanels();
  const grid: any[] = [], xAxis: any[] = [], yAxis: any[] = [];
  const cores: any[] = [], mains: any[] = [], yels: any[] = [], oras: any[] = [];
  panels.forEach((p, k) => {
    const g = { left: p.left, top: p.top, width: p.width, height: PANEL_H };
    grid[k] = { ...g, show: true, borderColor: INK, borderWidth: 1, backgroundColor: "transparent" };
    grid[8 + k] = { ...g, show: false };
    const minors = minorTicks(p.xmin, p.xmax, p.minor, p.major);
    const ax = (gi: number, pos: string, vals: number[], len: number, labels: boolean) => ({
      type: "value", gridIndex: gi, position: pos, min: p.xmin, max: p.xmax,
      axisLine: { show: false }, splitLine: { show: false },
      axisTick: { show: true, inside: true, length: len, customValues: vals, lineStyle: { color: INK, width: 1 } },
      axisLabel: { show: labels, customValues: vals, color: INK, fontFamily: FONT, fontSize: 11, margin: 6, formatter: (v: number) => String(v) },
    });
    xAxis[2 * k] = ax(k, "bottom", p.ticks, 4, p.labels);
    xAxis[2 * k + 1] = ax(k, "top", p.ticks, 4, false);
    xAxis[16 + 2 * k] = ax(8 + k, "bottom", minors, 2, false);
    xAxis[17 + 2 * k] = ax(8 + k, "top", minors, 2, false);
    yAxis[k] = { type: "value", gridIndex: k, min: 0, max: 100, show: false };
    yAxis[8 + k] = { type: "value", gridIndex: 8 + k, min: 0, max: 100, show: false };

    const common = { xAxisIndex: 2 * k, yAxisIndex: k, symbol: "none", silent: true, animation: false, clip: true, emphasis: { disabled: true } };
    p.traces.forEach((t) => {
      const step = t.span ? t.span / (t.vals.length - 1) : (t.step || 1);
      const pts = t.vals.map((v, i) => [i * step, t.off + v]);
      const lastX = (t.vals.length - 1) * step;
      const op = t.coreOp ?? 1;
      if (t.core) {
        cores.push({ ...common, type: "line", data: [[0, t.off], [lastX, t.off]], z: 1, lineStyle: { color: p.color, width: t.core, cap: "butt", opacity: op } });
      }
      mains.push({ ...common, type: "line", data: pts, z: 2, lineStyle: { color: p.color, width: t.lw, join: "round" }, itemStyle: { color: p.color } });
      if (t.dot) {
        const [a, b] = p.masks[0];
        let best = pts[0];
        pts.forEach((q) => { if (Math.abs(q[0] - (a + b) / 2) < Math.abs(best[0] - (a + b) / 2)) best = q; });
        yels.push({ ...common, type: "scatter", symbol: "circle", symbolSize: 5, data: [[(a + b) / 2, best[1]]], z: 5, itemStyle: { color: YELLOW } });
      }
      if (!p.masks.length) return;
      const ypts: any[] = [], ycore: any[] = [], opts: any[] = [];
      p.masks.forEach(([a, b]) => {
        const c = t.off;
        const src = t.fine ? t.fine.map((v, i) => [a + i * STEP_MASK_T1, c + v]) : pts.filter((q) => q[0] >= a && q[0] <= b);
        if (t.yel > 0 && src.length) ypts.push(...src, [b + 1, null]);
        if (t.yel > 0 && t.core) ycore.push([a, c], [b, c], [b + 1, null]);
        let o: any[] = [];
        if (t.ora === "flat") o = [[a, c], [b, c]];
        else if (t.ora === "data") o = src;
        else if (t.ora === "chord" && src.length) o = [src[0], src[src.length - 1]];
        if (o.length) opts.push(...o, [b + 1, null]);
      });
      if (ycore.length) yels.push({ ...common, type: "line", data: ycore, z: 3, connectNulls: false, lineStyle: { color: YELLOW, width: t.core, cap: "butt", opacity: Math.min(1, op + 0.3) } });
      if (ypts.length) yels.push({ ...common, type: "line", data: ypts, z: 3, connectNulls: false, lineStyle: { color: YELLOW, width: t.yel, join: "round" }, itemStyle: { color: YELLOW } });
      if (opts.length) oras.push({ ...common, type: "line", data: opts, z: 4, connectNulls: false, lineStyle: { color: ORANGE, width: t.oraW || 1.2 }, itemStyle: { color: ORANGE } });
    });
  });

  const txt = (text: string, x: number, y: number, size: number, rot = 0) => ({
    type: "text", x, y, rotation: rot, silent: true,
    style: { text, x: 0, y: 0, fill: "#111", font: `${size}px "${FONT}"`, textAlign: "center", align: "center", textVerticalAlign: "middle", verticalAlign: "middle" },
  });
  const centers = LEFTS.map((l, i) => l + WIDTHS[i] / 2);
  const graphic = [
    txt("SVD Modes for M017 20Hz", 297, 13, 13.5),
    txt("SVD Modes for M017 1Hz", 904.5, 13, 13.5),
    txt("Temporal Modes", centers[0], 36, 13.5),
    txt("Spectroscopic Modes", centers[1], 36, 13.5),
    txt("Temporal Modes", centers[2], 36, 13.5),
    txt("Spectroscopic Modes", centers[3], 36, 13.5),
    txt("Time Stamps #", centers[0], 433, 13.5),
    txt("Frequency Channel #", centers[1], 433, 13.5),
    txt("Time Stamps #", centers[2], 433, 13.5),
    txt("Frequency Channel #", centers[3], 433, 13.5),
    txt("HH Polarization", 17, ROW1 + PANEL_H / 2, 13.5, Math.PI / 2),
    txt("VV Polarization", 17, ROW2 + PANEL_H / 2, 13.5, Math.PI / 2),
    txt("HH Polarization", 625, ROW1 + PANEL_H / 2, 13.5, Math.PI / 2),
    txt("VV Polarization", 625, ROW2 + PANEL_H / 2, 13.5, Math.PI / 2),
  ];

  return {
    animation: false,
    backgroundColor: "#ffffff",
    grid, xAxis, yAxis,
    series: [...cores, ...mains, ...yels, ...oras],
    graphic,
  };
}

export default function App() {
  const ref = useRef<HTMLDivElement>(null);
  useEffect(() => {
    const chart = echarts.init(ref.current!, null, { renderer: "svg" });
    chart.setOption(buildOption() as any);
    return () => chart.dispose();
  }, []);
  return <div ref={ref} style={{ position: "absolute", left: 0, top: 0, width: 1171, height: 444 }} />;
}
